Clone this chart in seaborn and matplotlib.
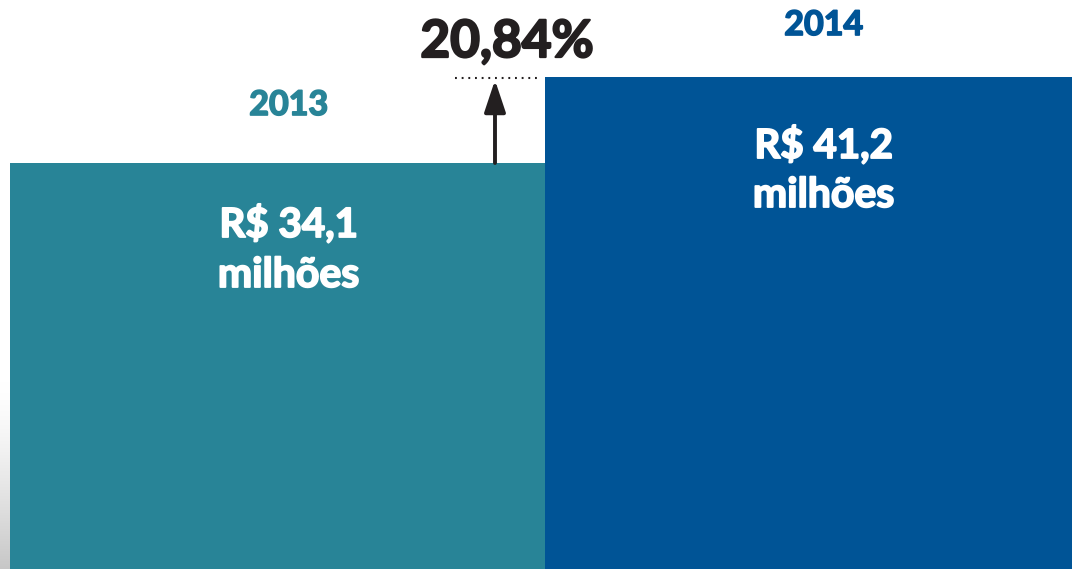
import numpy as np
import pandas as pd
import matplotlib
matplotlib.use("Agg")
import matplotlib.pyplot as plt
import matplotlib.patheffects as pe
import seaborn as sns

# Revenue per year (R$ millions)
years = ["2013", "2014"]
values = [34.1, 41.2]
value_labels = ["R$ 34,1\nmilhões", "R$ 41,2\nmilhões"]
growth_label = "20,84%"

bar_colors = ["#288497", "#005496"]
ink = "#231f20"

sns.set_theme(style="white")
plt.rcParams["font.family"] = ["Lato", "DejaVu Sans"]

fig = plt.figure(figsize=(10.72, 5.69), dpi=100)
ax = fig.add_axes([0, 0, 1, 1])

df = pd.DataFrame({"ano": years, "valor": values})
sns.barplot(data=df, x="ano", y="valor", hue="ano", palette=bar_colors,
            saturation=1, width=1.0, legend=False, ax=ax, zorder=2,
            linewidth=0, edgecolor="none")

ax.set_xlim(-0.5187, 1.485)
ax.set_ylim(0.578, 47.56)
ax.axis("off")

# soft grey shading along the lower left edge
grad = np.linspace(0, 1, 200).reshape(-1, 1) ** 1.4
shade = np.ones((200, 1, 3)) * (1 - 0.22 * grad)[..., None]
ax.imshow(shade, extent=(-0.5187, -0.5, 0.578, 16.0), origin="upper",
          aspect="auto", zorder=1, interpolation="bilinear")


def heavy(color, w=1.3):
    return [pe.withStroke(linewidth=w, foreground=color)]


text_kw = dict(fontweight="bold", ha="center", va="baseline",
               textcoords="offset pixels", annotation_clip=False)

year_offsets = [48, 42]
line1_offsets = [-74, -81]
line2_offsets = [-124, -130]
label_shift = 0.021

for i, (yr, v, lbl) in enumerate(zip(years, values, value_labels)):
    x = i + label_shift
    ax.annotate(yr, xy=(x, v), xytext=(0, year_offsets[i]),
                color=bar_colors[i], fontsize=24.5, zorder=4,
                path_effects=heavy(bar_colors[i], 1.2), **text_kw)
    first, second = lbl.split("\n")
    ax.annotate(first, xy=(x, v), xytext=(0, line1_offsets[i]),
                color="white", fontsize=29, zorder=4,
                path_effects=heavy("white"), **text_kw)
    ax.annotate(second, xy=(x, v), xytext=(0, line2_offsets[i]),
                color="white", fontsize=29.5, zorder=4,
                path_effects=heavy("white"), **text_kw)

# growth arrow from the 2013 level up to the 2014 level
arrow_x = 0.4065
ax.annotate("", xy=(arrow_x, values[1] - 0.25), xytext=(arrow_x, values[0]),
            arrowprops=dict(arrowstyle="-|>,head_length=1.95,head_width=0.65",
                            mutation_scale=10, color=ink, lw=2.8,
                            shrinkA=0, shrinkB=0),
            zorder=5, annotation_clip=False)
ax.plot([0.332, 0.485], [values[1] - 0.1, values[1] - 0.1], color=ink,
        lw=1.5, ls=(0, (0.9, 2.3)), zorder=5, solid_capstyle="butt")
ax.annotate(growth_label, xy=(0.429, values[1]), xytext=(0, 20),
            color=ink, fontsize=37, zorder=5,
            path_effects=heavy(ink, 1.6), **text_kw)

fig.savefig("out.png", dpi=100)
